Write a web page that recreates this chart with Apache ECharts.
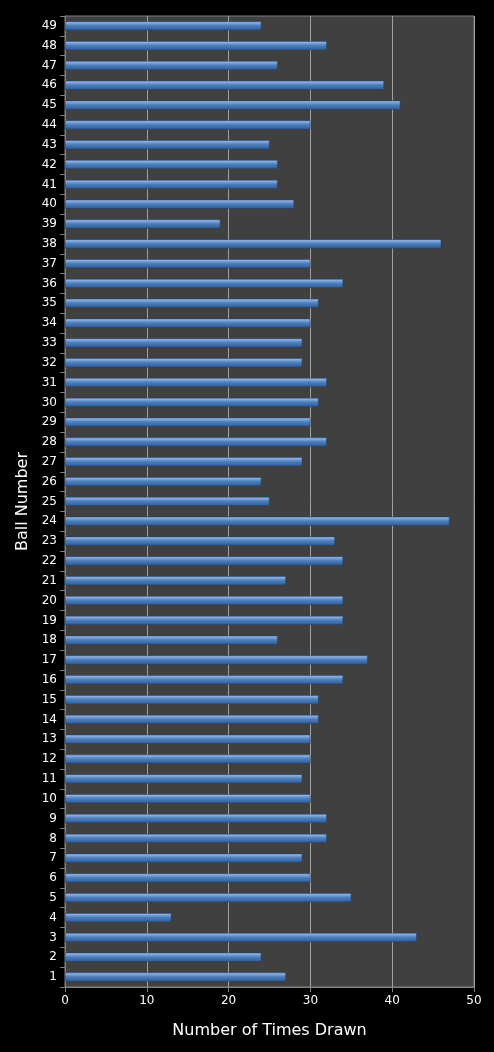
<!DOCTYPE html>
<html>
<head>
<meta charset="utf-8">
<script src="https://cdn.jsdelivr.net/npm/echarts@6/dist/echarts.min.js"></script>
<style>html,body{margin:0;background:#000;}#chart{width:494px;height:1052px;}</style>
</head>
<body>
<div id="chart"></div>
<script>
const balls = []
for (let i = 1; i <= 49; i++) balls.push(String(i))
const timesDrawn = [27, 24, 43, 13, 35, 30, 29, 32, 32, 30,
    29, 30, 30, 31, 31, 34, 37, 26, 34, 34,
    27, 34, 33, 47, 25, 24, 29, 32, 30, 31,
    32, 29, 29, 30, 31, 34, 30, 46, 19, 28,
    26, 26, 25, 30, 41, 39, 26, 32, 24]
const xTicks = [0, 10, 20, 30, 40, 50]

const myChart = echarts.init(document.getElementById('chart'))
const option = {
    backgroundColor: '#000',
    animation: false,
    grid: {left: 65, right: 20, top: 16, bottom: 65, show: true, backgroundColor: '#404040', borderColor: '#808080', borderWidth: 1},
    xAxis: {
        type: 'value', min: xTicks[0], max: xTicks[xTicks.length - 1], interval: 10,
        name: 'Number of Times Drawn', nameLocation: 'middle', nameGap: 36,
        nameTextStyle: {color: '#fff', fontSize: 16, fontFamily: 'DejaVu Sans'},
        axisLabel: {color: '#fff', fontSize: 12, fontFamily: 'DejaVu Sans'},
        axisLine: {show: true, lineStyle: {color: '#808080'}},
        axisTick: {show: true, lineStyle: {color: '#808080'}},
        splitLine: {lineStyle: {color: '#a0a0a0'}}
    },
    yAxis: {
        type: 'category', data: balls,
        name: 'Ball Number', nameLocation: 'middle', nameGap: 34,
        nameTextStyle: {color: '#fff', fontSize: 16, fontFamily: 'DejaVu Sans'},
        axisLabel: {color: '#fff', fontSize: 12, fontFamily: 'DejaVu Sans', interval: 0},
        axisLine: {lineStyle: {color: '#808080'}},
        axisTick: {show: true, interval: 0, lineStyle: {color: '#808080'}}
    },
    series: [{
        type: 'bar', data: timesDrawn, barWidth: 9,
        itemStyle: {
            color: new echarts.graphic.LinearGradient(0, 0, 0, 1, [
                {offset: 0, color: '#a9c4ef'},
                {offset: 0.45, color: '#4f81bd'},
                {offset: 1, color: '#2c5a98'}
            ]),
            borderColor: '#1f3f6e', borderWidth: 0.5
        }
    }]
}
option && myChart.setOption(option)
</script>
</body>
</html>
